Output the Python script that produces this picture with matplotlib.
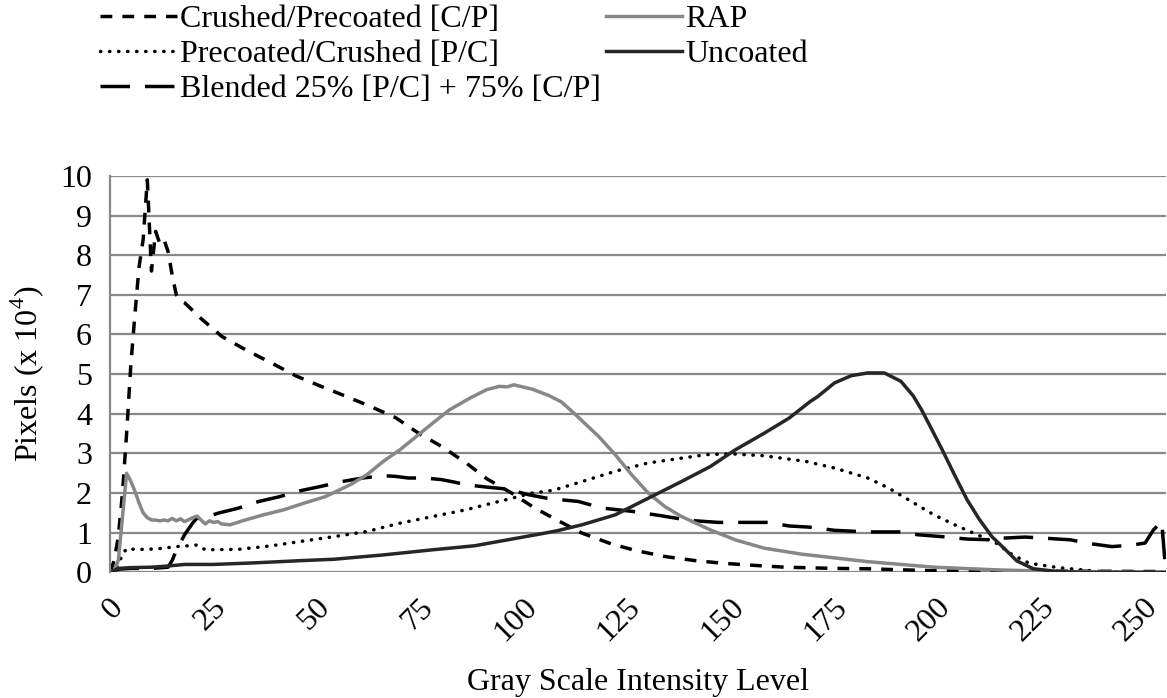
import matplotlib
matplotlib.use("Agg")
import matplotlib.pyplot as plt
import matplotlib.transforms as mtransforms

plt.rcParams['font.family'] = ['Liberation Serif', 'DejaVu Serif']
plt.rcParams['mathtext.fontset'] = 'custom'
plt.rcParams['mathtext.rm'] = 'Liberation Serif'

# Histogram readings: gray level -> pixel count (x 10^4)
cp_levels = [0, 1, 2, 3, 4, 5, 6, 7, 8, 9, 10, 11, 12, 13, 14, 15, 16, 17, 18, 22, 27, 33, 39, 45,
             51, 57, 63, 69, 74.5, 80, 86, 91, 97, 102, 107, 114, 121, 127, 134, 141, 148, 155,
             163, 175, 183, 199, 215, 235, 255]
cp_values = [0, 0.3, 0.9, 2.0, 3.5, 5.2, 6.5, 7.7, 8.4, 9.9, 7.6, 8.6, 8.3, 8.4, 8.1, 7.5, 7.0, 6.85,
             6.8, 6.4, 5.95, 5.6, 5.28, 4.95, 4.69, 4.44, 4.18, 3.9, 3.51, 3.18, 2.76, 2.36, 2.0,
             1.66, 1.37, 0.99, 0.72, 0.55, 0.40, 0.30, 0.23, 0.18, 0.13, 0.10, 0.09, 0.04, 0.03,
             0.03, 0.02]

pc_levels = [0, 1, 2, 3, 4, 6, 9, 13, 16, 19, 21, 23, 31, 39, 46, 54, 62, 70, 78, 86, 94, 102, 107,
             114, 122, 130, 138, 144, 150, 158, 168, 175, 183, 188, 193, 199, 204, 209, 214, 218,
             222, 229, 235, 238, 242, 255]
pc_values = [0, 0.05, 0.2, 0.45, 0.6, 0.58, 0.58, 0.61, 0.65, 0.67, 0.69, 0.57, 0.58, 0.67, 0.78,
             0.9, 1.03, 1.24, 1.41, 1.58, 1.79, 2.0, 2.07, 2.29, 2.55, 2.76, 2.88, 2.97, 2.99, 2.94,
             2.8, 2.63, 2.38, 2.13, 1.82, 1.45, 1.2, 0.97, 0.74, 0.44, 0.23, 0.12, 0.06, 0.03,
             0.01, 0]

bl_levels = [0, 2, 5, 10, 14, 15, 16, 17, 18, 19, 20, 21, 22, 24, 26, 31, 36, 41, 46, 51, 56, 61,
             66, 69, 72, 76, 80, 83, 86, 91, 96, 101, 106, 113, 119, 126, 133, 140, 147, 153, 159,
             164, 169, 175, 183, 191, 195, 201, 207, 213, 215, 221, 226, 232, 237, 242, 247, 250,
             252, 254, 255]
bl_values = [0, 0.08, 0.1, 0.1, 0.13, 0.3, 0.55, 0.75, 0.95, 1.1, 1.25, 1.37, 1.35, 1.42, 1.49,
             1.62, 1.79, 1.91, 2.06, 2.17, 2.29, 2.38, 2.44, 2.42, 2.38, 2.38, 2.34, 2.28, 2.21,
             2.15, 2.1, 1.96, 1.86, 1.79, 1.62, 1.54, 1.43, 1.31, 1.26, 1.26, 1.26, 1.17, 1.14,
             1.06, 1.02, 1.02, 0.95, 0.9, 0.84, 0.82, 0.86, 0.89, 0.86, 0.82, 0.72, 0.65, 0.69,
             0.74, 1.07, 1.28, 0]

rap_levels = [0, 1, 2, 3, 4, 5, 6, 7, 8, 9, 10, 11, 12, 13, 14, 15, 16, 17, 18, 19, 20, 21, 22,
              23, 24, 25, 26, 27, 29, 32, 37, 42, 47, 52, 58, 62, 66, 70, 74, 78, 82, 87, 91, 94,
              96, 97.5, 102, 106, 109, 112, 118, 122, 126, 130, 134, 138, 145, 151, 158, 167,
              183, 199, 215, 230, 240, 255]
rap_values = [0, 0.05, 0.3, 1.4, 2.5, 2.3, 2.05, 1.75, 1.5, 1.38, 1.32, 1.32, 1.3, 1.32, 1.3,
              1.36, 1.3, 1.35, 1.28, 1.33, 1.38, 1.42, 1.32, 1.22, 1.3, 1.26, 1.28, 1.22, 1.2,
              1.3, 1.45, 1.58, 1.75, 1.91, 2.21, 2.46, 2.8, 3.09, 3.43, 3.77, 4.10, 4.4, 4.61,
              4.69, 4.68, 4.73, 4.62, 4.46, 4.3, 4.02, 3.43, 2.97, 2.46, 2.0, 1.66, 1.41, 1.07,
              0.82, 0.61, 0.46, 0.27, 0.13, 0.06, 0.02, 0.01, 0]

un_levels = [0, 1, 2, 5, 10, 14, 18, 25, 35, 47, 54, 66, 78, 88, 96, 104, 108, 114, 122, 130, 138,
             145, 151, 158, 164, 169, 171, 175, 179, 183, 187, 191, 194, 196, 198, 201, 204, 207,
             210, 213, 216, 219, 223, 229, 235, 255]
un_values = [0, 0.05, 0.1, 0.12, 0.13, 0.16, 0.2, 0.2, 0.24, 0.3, 0.33, 0.44, 0.57, 0.67, 0.82,
             0.97, 1.05, 1.2, 1.45, 1.87, 2.29, 2.67, 3.09, 3.51, 3.89, 4.3, 4.44, 4.78, 4.96,
             5.03, 5.03, 4.82, 4.45, 4.1, 3.7, 3.09, 2.45, 1.83, 1.33, 0.9, 0.6, 0.29, 0.09, 0.02,
             0.0, 0]

x_ticks = list(range(0, 251, 25))
y_ticks = list(range(0, 11))

FS = 23

fig = plt.figure(figsize=(11.67, 6.98), dpi=100)
ax = fig.add_axes([0.0943, 0.180, 0.9047, 0.568])

lw = 2.5
ax.plot(cp_levels, cp_values, color='black', lw=lw, linestyle=(0, (3.4, 2.9)),
        label='Crushed/Precoated [C/P]')
ax.plot(pc_levels, pc_values, color='black', lw=lw, linestyle=(0, (0.1, 2.5)),
        dash_capstyle='round', label='Precoated/Crushed [P/C]')
ax.plot(bl_levels, bl_values, color='black', lw=lw, linestyle=(0, (8.5, 4.3)),
        label='Blended 25% [P/C] + 75% [C/P]')
ax.plot(rap_levels, rap_values, color='#878787', lw=lw, label='RAP')
ax.plot(un_levels, un_values, color='#262626', lw=lw, label='Uncoated')

ax.set_xlim(0, 255)
ax.set_ylim(0, 10)
ax.set_xticks(x_ticks)
ax.set_yticks(y_ticks)
ax.set_xticklabels([str(t) for t in x_ticks], rotation=45, ha='right', va='center',
                   rotation_mode='anchor')
ax.tick_params(axis='both', length=0, labelsize=FS)
ax.tick_params(axis='x', pad=22)
ax.tick_params(axis='y', pad=13)
shift = mtransforms.ScaledTranslation(6 / 72, 0, fig.dpi_scale_trans)
for lab in ax.get_xticklabels():
    lab.set_transform(lab.get_transform() + shift)
ax.yaxis.grid(True, color='#888888', lw=1.6)
ax.set_axisbelow(True)
for side in ['top', 'right', 'bottom']:
    ax.spines[side].set_visible(False)
ax.spines['left'].set_color('#888888')
ax.spines['left'].set_linewidth(1.6)

ax.set_xlabel('Gray Scale Intensity Level', fontsize=FS, labelpad=15)
ax.set_ylabel(r'Pixels (x 10$^{4}$)', fontsize=FS, labelpad=10)

handles, labels = ax.get_legend_handles_labels()
fig.legend(handles, labels, ncol=2, loc='upper left', bbox_to_anchor=(0.072, 1.016),
           frameon=False, fontsize=FS, handlelength=2.4, handletextpad=0.1,
           columnspacing=0.15, labelspacing=0.17, borderaxespad=0.1)

fig.savefig('out.png', dpi=100)
